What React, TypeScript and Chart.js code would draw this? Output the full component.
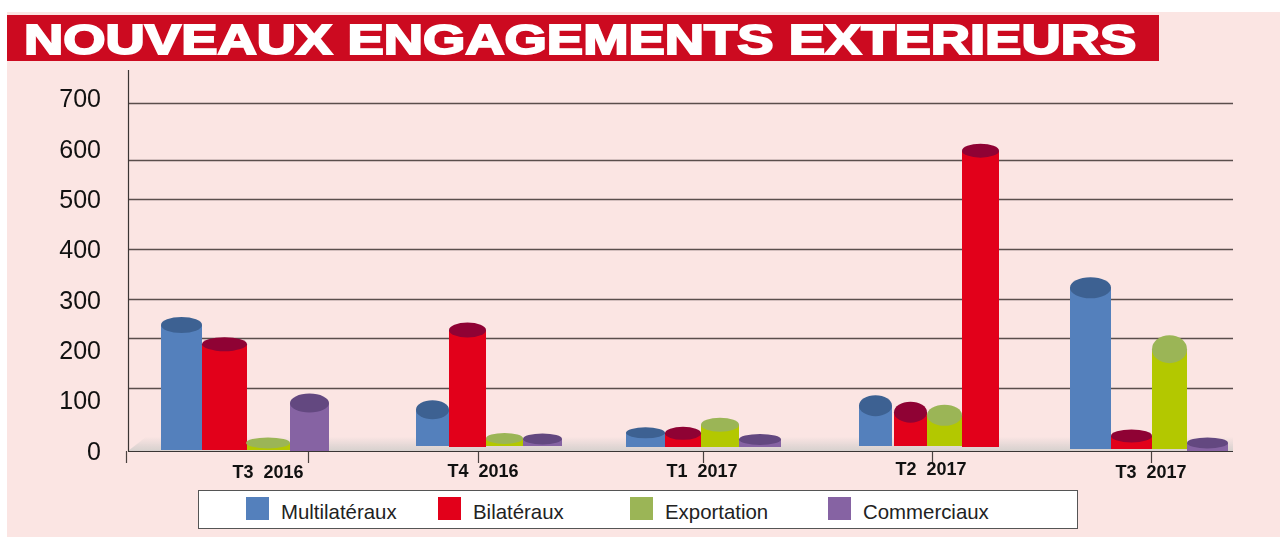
import React, { useEffect, useRef } from "react";
import { Chart, registerables } from "chart.js";

Chart.register(...registerables);

const title = "NOUVEAUX ENGAGEMENTS EXTERIEURS";
const seriesNames = ["Multilatéraux", "Bilatéraux", "Exportation", "Commerciaux"];
const quarterLabels = ["T3  2016", "T4  2016", "T1  2017", "T2  2017", "T3  2017"];
const yTickValues = [0, 100, 200, 300, 400, 500, 600, 700];
const gridValues = [0, 125, 224, 302, 401, 500, 577, 690];

// Bar tops, in axis units
const multilateraux = [250, 82, 36, 90, 324];
const bilateraux = [212, 240, 35, 77, 30];
const exportation = [16, 25, 52, 71, 202];
const commerciaux = [95, 24, 23, 596, 16];
// Bar feet, in axis units (the bars float slightly above the axis)
const multilaterauxBase = [2, 10, 8, 10, 4];
const bilaterauxBase = [2, 8, 8, 10, 4];
const exportationBase = [2, 10, 8, 10, 4];
const commerciauxBase = [0, 10, 8, 8, 0];

// Layout: x axis runs in page pixels
const X_MIN = 126;
const X_MAX = 1233;
const Y_MAX = 756;
const AXIS_X = 128;
const FLOOR_TOP = 28;
const labelCenters = [268, 483, 702, 931, 1151];
const labelShift = [0, -1, -1, -3, 0];
const yLabelShift = 2;
const tickMarks = [126, 308, 478, 703, 932, 1151];
const barLeft = [
  [161, 416, 626, 859, 1070],
  [202, 449, 665, 894, 1111],
  [246, 486, 701, 927, 1152],
  [290, 523, 739, 962, 1187],
];
const barRight = [
  [202, 449, 665, 892, 1111],
  [247, 486, 701, 927, 1152],
  [290, 523, 739, 962, 1187],
  [329, 562, 781, 999, 1228],
];
const capRadius = [
  [8, 9.5, 5.5, 10.5, 10.5],
  [7, 7.5, 6.5, 10.5, 6.5],
  [5.5, 5.5, 7, 10.5, 14],
  [9.5, 5.5, 5.5, 7, 5.5],
];
const legendSwatchX = [246, 438, 630, 828];
const legendTextX = [281, 473, 665, 863];

const BLUE = "#5480BC";
const BLUE_TOP = "#3D6192";
const RED = "#E2001A";
const RED_TOP = "#8F0234";
const LIME = "#B3C800";
const LIME_TOP = "#9BB556";
const PURPLE = "#8663A3";
const PURPLE_TOP = "#634880";
const legendColors = [BLUE, RED, LIME_TOP, PURPLE];
const barColors = [
  [BLUE, BLUE, BLUE, BLUE, BLUE],
  [RED, RED, RED, RED, RED],
  [LIME, LIME, LIME, LIME, LIME],
  [PURPLE, PURPLE, PURPLE, RED, PURPLE],
];
const capColors = [
  [BLUE_TOP, BLUE_TOP, BLUE_TOP, BLUE_TOP, BLUE_TOP],
  [RED_TOP, RED_TOP, RED_TOP, RED_TOP, RED_TOP],
  [LIME_TOP, LIME_TOP, LIME_TOP, LIME_TOP, LIME_TOP],
  [PURPLE_TOP, PURPLE_TOP, PURPLE_TOP, RED_TOP, PURPLE_TOP],
];
const PINK = "#FBE5E3";
const FONT = "'Liberation Sans', Arial, sans-serif";

const tops = [multilateraux, bilateraux, exportation, commerciaux];
const bases = [multilaterauxBase, bilaterauxBase, exportationBase, commerciauxBase];

const cylinderPlugin = {
  id: "cylinders",
  afterDatasetsUpdate(chart: any) {
    const x = chart.scales.x;
    chart.data.datasets.forEach((_: any, s: number) => {
      chart.getDatasetMeta(s).data.forEach((el: any, i: number) => {
        const l = x.getPixelForValue(barLeft[s][i]);
        const r = x.getPixelForValue(barRight[s][i]);
        el.x = (l + r) / 2;
        el.width = r - l;
      });
    });
  },
  beforeDatasetsDraw(chart: any) {
    const { ctx, scales } = chart;
    const { x, y } = scales;
    const left = x.getPixelForValue(AXIS_X);
    const right = x.getPixelForValue(X_MAX);
    const base = y.getPixelForValue(0);
    // shaded floor
    const floorTop = y.getPixelForValue(FLOOR_TOP);
    const g = ctx.createLinearGradient(0, floorTop, 0, base);
    g.addColorStop(0, "rgba(214,208,206,0)");
    g.addColorStop(1, "rgba(214,208,206,1)");
    ctx.save();
    ctx.fillStyle = g;
    ctx.beginPath();
    ctx.moveTo(left, base);
    ctx.lineTo(left + 18, floorTop);
    ctx.lineTo(right, floorTop);
    ctx.lineTo(right, base);
    ctx.closePath();
    ctx.fill();
    // grid
    y.ticks.forEach((t: any) => {
      const py = Math.round(y.getPixelForValue(t.value)) + 0.5;
      ctx.strokeStyle = t.value === 0 ? "#3a3534" : "#5a4e4c";
      ctx.lineWidth = t.value === 0 ? 1.2 : 1.4;
      ctx.beginPath();
      ctx.moveTo(left, py);
      ctx.lineTo(right, py);
      ctx.stroke();
    });
    // vertical axis line
    ctx.strokeStyle = "#3a3534";
    ctx.lineWidth = 1.2;
    ctx.beginPath();
    ctx.moveTo(left + 0.5, y.getPixelForValue(Y_MAX));
    ctx.lineTo(left + 0.5, base);
    ctx.stroke();
    ctx.restore();
  },
  afterDatasetsDraw(chart: any) {
    const { ctx } = chart;
    ctx.save();
    chart.data.datasets.forEach((_: any, s: number) => {
      chart.getDatasetMeta(s).data.forEach((el: any, i: number) => {
        ctx.fillStyle = capColors[s][i];
        ctx.beginPath();
        ctx.ellipse(el.x, el.y, el.width / 2, capRadius[s][i], 0, 0, Math.PI * 2);
        ctx.fill();
      });
    });
    ctx.restore();
  },
};

const shiftLabelsPlugin = {
  id: "shiftLabels",
  afterLayout(chart: any) {
    const shift = (scale: any, dy: (i: number) => number) => {
      scale._labelItems = null;
      scale.getLabelItems().forEach((it: any, i: number) => {
        it.options.translation = [it.options.translation[0], it.options.translation[1] + dy(i)];
      });
    };
    shift(chart.scales.x, (i) => labelShift[i]);
    shift(chart.scales.yLabels, () => yLabelShift);
  },
};

export default function App() {
  const ref = useRef<HTMLCanvasElement | null>(null);

  useEffect(() => {
    if (!ref.current) return;
    const chart = new Chart(ref.current, {
      type: "bar",
      data: {
        datasets: seriesNames.map((name, s) => ({
          label: name,
          data: tops[s].map((top, i) => ({
            x: (barLeft[s][i] + barRight[s][i]) / 2,
            y: [bases[s][i], top],
          })),
          backgroundColor: barColors[s],
          borderWidth: 0,
          grouped: false,
          xAxisID: "x",
          yAxisID: "y",
        })),
      } as any,
      options: {
        responsive: false,
        animation: false,
        layout: { padding: { top: 70, right: 47, left: 0, bottom: 0 } },
        plugins: { legend: { display: false }, title: { display: false }, tooltip: { enabled: false } },
        scales: {
          x: {
            type: "linear",
            axis: "x",
            position: "bottom",
            offset: false,
            min: X_MIN,
            max: X_MAX,
            grid: { display: false, offset: false },
            border: { display: false },
            afterFit: (s: any) => { s.height = 86; s.paddingLeft = 0; s.paddingRight = 0; },
            afterBuildTicks: (s: any) => { s.ticks = labelCenters.map((value) => ({ value })); },
            ticks: {
              autoSkip: false,
              maxRotation: 0,
              padding: 3,
              color: "#111",
              font: { family: FONT, size: 18, weight: "bold" },
              callback: (_: any, i: number) => quarterLabels[i],
            },
          },
          xMarks: {
            type: "linear",
            axis: "x",
            position: "bottom",
            offset: false,
            weight: -1,
            min: X_MIN,
            max: X_MAX,
            border: { display: false },
            afterFit: (s: any) => { s.height = 0; s.paddingLeft = 0; s.paddingRight = 0; },
            afterBuildTicks: (s: any) => { s.ticks = tickMarks.map((value) => ({ value })); },
            grid: { offset: false, drawOnChartArea: false, drawTicks: true, tickLength: 12, tickColor: "#4a4240", tickWidth: 1.2 },
            ticks: { display: false },
          },
          y: {
            type: "linear",
            axis: "y",
            position: "left",
            min: 0,
            max: Y_MAX,
            grid: { display: false },
            border: { display: false },
            afterFit: (s: any) => { s.width = 0; s.paddingTop = 0; s.paddingBottom = 0; },
            afterBuildTicks: (s: any) => { s.ticks = gridValues.map((value) => ({ value })); },
            ticks: { display: false },
          },
          yLabels: {
            type: "linear",
            axis: "y",
            position: "left",
            min: 0,
            max: Y_MAX,
            grid: { display: false },
            border: { display: false },
            afterFit: (s: any) => { s.width = X_MIN; s.paddingTop = 0; s.paddingBottom = 0; },
            afterBuildTicks: (s: any) => { s.ticks = yTickValues.map((value) => ({ value })); },
            ticks: {
              autoSkip: false,
              padding: 17,
              color: "#111",
              font: { family: FONT, size: 25 },
            },
          },
        },
      } as any,
      plugins: [cylinderPlugin, shiftLabelsPlugin] as any,
    });
    return () => chart.destroy();
  }, []);

  return (
    <div style={{ position: "absolute", left: 0, top: 0, width: 1280, height: 537, background: "#fff", overflow: "hidden" }}>
      <div style={{ position: "absolute", left: 7, top: 12, right: 0, bottom: 0, background: PINK }} />
      <div style={{ position: "absolute", left: 7, top: 15, width: 1152, height: 46, background: "#CC0A20" }} />
      <div
        style={{
          position: "absolute",
          left: 24,
          top: 15,
          height: 46,
          lineHeight: "48px",
          whiteSpace: "nowrap",
          color: "#fff",
          fontFamily: FONT,
          fontWeight: "bold",
          fontSize: 43,
          WebkitTextStroke: "2px #fff",
          transform: "scaleX(1.265)",
          transformOrigin: "left center",
        }}
      >
        {title}
      </div>
      <canvas ref={ref} width={1280} height={537} style={{ position: "absolute", left: 0, top: 0, display: "block" }} />
      <div
        style={{
          position: "absolute",
          left: 198,
          top: 490,
          width: 878,
          height: 37,
          background: "#fff",
          border: "1px solid #555",
        }}
      />
      {seriesNames.map((name, i) => (
        <React.Fragment key={name}>
          <div style={{ position: "absolute", left: legendSwatchX[i], top: 497, width: 23, height: 23, background: legendColors[i] }} />
          <div
            style={{
              position: "absolute",
              left: legendTextX[i],
              top: 497,
              height: 30,
              lineHeight: "30px",
              whiteSpace: "nowrap",
              color: "#222",
              fontFamily: FONT,
              fontSize: 20.4,
            }}
          >
            {name}
          </div>
        </React.Fragment>
      ))}
    </div>
  );
}
